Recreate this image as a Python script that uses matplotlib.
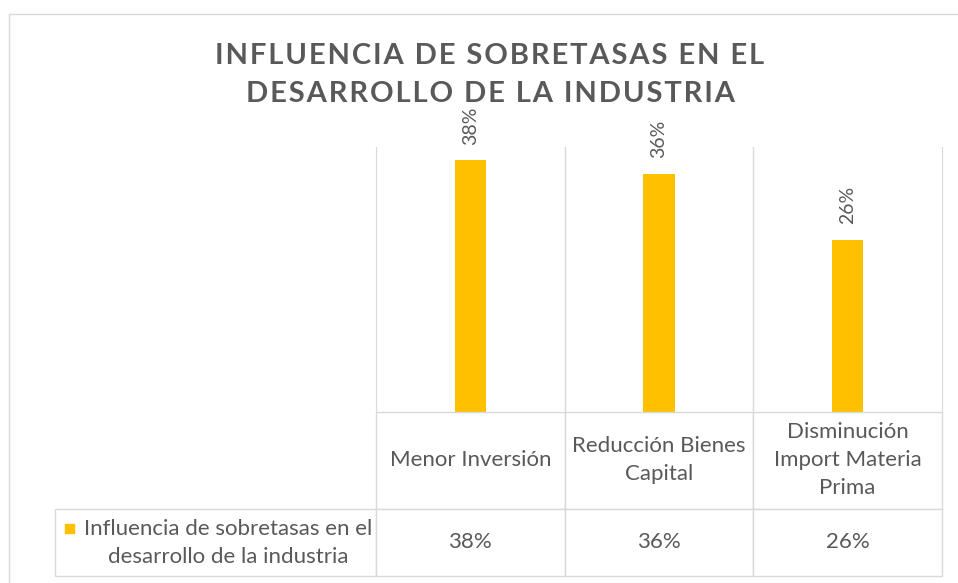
import matplotlib.pyplot as plt
from matplotlib.patches import Rectangle
from matplotlib.table import Table

# data
categories = ["Menor Inversión", "Reducción Bienes\nCapital", "Disminución\nImport Materia\nPrima"]
values = [0.38, 0.36, 0.26]
series_name = "Influencia de sobretasas en el\ndesarrollo de la industria"
title = "INFLUENCIA DE SOBRETASAS EN EL\nDESARROLLO DE LA INDUSTRIA"

bar_color = "#FFC000"
text_color = "#595959"
grid_color = "#d9d9d9"
fam = ["Lato", "DejaVu Sans"]

W, H = 958, 583
fig = plt.figure(figsize=(W / 100, H / 100), dpi=100)

# outer chart border
fig.patches.append(Rectangle((9 / W, -0.1), 1.2, 1 - 14 / H + 0.1, transform=fig.transFigure,
                             fill=False, edgecolor=grid_color, lw=1))

# letter-spaced title
spaced = "\n".join("\u200a".join(line) for line in title.split("\n"))
fig.text(490 / W, 1 - 75 / H, spaced, ha="center", va="center", fontsize=21,
         fontweight="bold", color=text_color, family=fam, linespacing=1.55)

ax = fig.add_axes([376 / W, 1 - 412 / H, (942 - 376) / W, (412 - 147) / H])
x = list(range(len(values)))
bars = ax.bar(x, values, width=0.165, color=bar_color, zorder=2)
for xi, v in zip(x, values):
    ax.annotate(f"{v:.0%}", (xi, v), xytext=(0, 11), textcoords="offset points",
                rotation=90, ha="center", va="bottom", fontsize=14, color=text_color,
                family=fam)

ax.set_xlim(-0.5, len(values) - 0.5)
ax.set_ylim(0, 0.40)
ax.set_yticks([])
ax.set_xticks([])
ax.set_xticks([i + 0.5 for i in x[:-1]], minor=True)
ax.tick_params(which="both", length=0)
ax.grid(which="minor", axis="x", color=grid_color, lw=1)
ax.spines["top"].set_visible(False)
ax.spines["bottom"].set_visible(False)
for s in ("left", "right"):
    ax.spines[s].set_color(grid_color)

# data table under the chart (sizes in axes fractions)
aw = 942 - 376
ah = 412 - 147
col_w = 1 / len(values)
lab_w = (376 - 55) / aw
head_h = 97 / ah
row_h = 67 / ah
tb = Table(ax, bbox=[-lab_w, -(head_h + row_h), 1 + lab_w, head_h + row_h])
for j, cat in enumerate(categories):
    tb.add_cell(0, j + 1, width=col_w, height=head_h, text=cat, loc="center",
                facecolor="white", edgecolor=grid_color)
tb.add_cell(1, 0, width=lab_w, height=row_h, text="", facecolor="white", edgecolor=grid_color)
for j, v in enumerate(values):
    tb.add_cell(1, j + 1, width=col_w, height=row_h, text=f"{v:.0%}", loc="center",
                facecolor="white", edgecolor=grid_color)
tb.auto_set_font_size(False)
tb.set_fontsize(16)
for cell in tb.get_celld().values():
    cell.get_text().set_color(text_color)
    cell.get_text().set_family(fam)
    cell.get_text().set_linespacing(1.5)
    cell.set_linewidth(1)
    cell.set_clip_on(False)
tb.set_clip_on(False)
tb.set_zorder(3)
ax.add_table(tb)

# legend key + series name in the row header
ax.add_patch(Rectangle(((65 - 376) / aw, (412 - 533) / ah), 9 / aw, 9 / ah,
                       transform=ax.transAxes, color=bar_color, clip_on=False, zorder=5))
ax.text((228 - 376) / aw, (412 - 543) / ah, series_name, transform=ax.transAxes,
        ha="center", va="center", fontsize=16, color=text_color, family=fam, zorder=5,
        linespacing=1.45)

fig.savefig("out.png", dpi=100)
